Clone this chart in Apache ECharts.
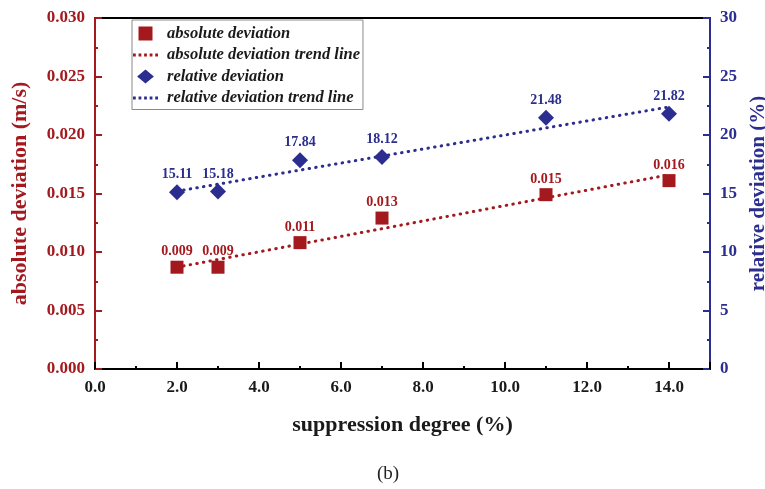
<!DOCTYPE html>
<html>
<head>
<meta charset="utf-8">
<script src="https://cdn.jsdelivr.net/npm/echarts@6/dist/echarts.min.js"></script>
<style>
  html, body { margin: 0; padding: 0; background: #fff; }
  #chart { width: 765px; height: 489px; }
</style>
</head>
<body>
<div id="chart"></div>
<script>
// Suppression degree (%) on the x axis
const suppression = [2, 3, 5, 7, 11, 14];
// Absolute deviation (m/s)
const absoluteDeviation = [0.0087, 0.0087, 0.0108, 0.0129, 0.0149, 0.0161];
// Relative deviation (%)
const relativeDeviation = [15.11, 15.18, 17.84, 18.12, 21.48, 21.82];
// Trend line end points [x, y]
const absoluteTrend = [[2, 0.0087], [14, 0.0166]];
const relativeTrend = [[2, 15.2], [14, 22.4]];
// Axis tick labels
const xTicks = ['0.0', '2.0', '4.0', '6.0', '8.0', '10.0', '12.0', '14.0'];

const RED = '#a3191e';
const BLUE = '#2b2e8f';
const FONT = '"Liberation Serif", "Times New Roman", serif';

// Legend glyphs: a row of dots for trend lines, a square and a diamond for points
const DOTS_ICON = 'path://M0,0h3v3h-3z M6,0h3v3h-3z M12,0h3v3h-3z M18,0h3v3h-3z M24,0h3v3h-3z';
const SQUARE_ICON = 'path://M0,0h10v10h-10z';
const DIAMOND_ICON = 'path://M6,0L12,5L6,10L0,5z';

const chart = echarts.init(document.getElementById('chart'), null, { renderer: 'canvas' });

const pairs = (xs, ys) => xs.map((x, i) => [x, ys[i]]);

const trendStyle = (color) => ({
  color: color,
  width: 3,
  type: [0.5, 6.2],
  cap: 'round'
});

chart.setOption({
  backgroundColor: '#fff',
  animation: false,
  textStyle: { fontFamily: FONT },
  grid: {
    left: 95, right: 55, top: 18, bottom: 120,
    outerBoundsMode: 'none',
    containLabel: false,
    show: true, borderColor: '#000', borderWidth: 2, backgroundColor: 'transparent'
  },
  legend: {
    orient: 'vertical',
    left: 132, top: 20,
    padding: [5, 3, 3, 1],
    itemWidth: 25, itemHeight: 14, itemGap: 4.5,
    symbolKeepAspect: true,
    borderColor: '#8a8a8a', borderWidth: 1,
    textStyle: {
      fontFamily: FONT, fontSize: 16.5, fontStyle: 'italic', fontWeight: 'bold',
      color: '#1a1a1a', lineHeight: 16, padding: [0, 0, 0, 4]
    },
    data: [
      { name: 'absolute deviation', icon: SQUARE_ICON },
      { name: 'absolute deviation trend line', icon: DOTS_ICON },
      { name: 'relative deviation', icon: DIAMOND_ICON },
      { name: 'relative deviation trend line', icon: DOTS_ICON }
    ]
  },
  xAxis: {
    type: 'value',
    min: 0, max: 15, interval: 2,
    name: 'suppression degree (%)',
    nameLocation: 'middle',
    nameGap: 45,
    nameTextStyle: { fontFamily: FONT, fontSize: 22, fontWeight: 'bold', color: '#1a1a1a' },
    axisLine: { lineStyle: { color: '#000', width: 2 } },
    axisTick: { inside: true, length: 7, lineStyle: { color: '#000', width: 2 } },
    minorTick: { show: true, splitNumber: 2, length: 3, lineStyle: { color: '#000', width: 2 } },
    axisLabel: {
      margin: 10,
      showMaxLabel: false,
      fontFamily: FONT, fontSize: 17, fontWeight: 'bold', color: '#1a1a1a',
      formatter: (v) => (v <= 14 ? xTicks[v / 2] : '')
    },
    splitLine: { show: false },
    minorSplitLine: { show: false }
  },
  yAxis: [
    {
      type: 'value',
      min: 0, max: 0.03, interval: 0.005,
      name: 'absolute deviation (m/s)',
      nameLocation: 'middle',
      nameRotate: 90,
      nameGap: 64,
      nameTextStyle: { fontFamily: FONT, fontSize: 22, fontWeight: 'bold', color: RED },
      axisLine: { show: true, lineStyle: { color: RED, width: 2 } },
      axisTick: { inside: true, length: 7, lineStyle: { color: RED, width: 2 } },
      minorTick: { show: true, splitNumber: 2, length: 3, lineStyle: { color: RED, width: 2 } },
      axisLabel: {
        margin: 10,
        fontFamily: FONT, fontSize: 17, fontWeight: 'bold', color: RED,
        formatter: (v) => v.toFixed(3)
      },
      splitLine: { show: false }
    },
    {
      type: 'value',
      min: 0, max: 30, interval: 5,
      name: 'relative deviation (%)',
      nameLocation: 'middle',
      nameRotate: 90,
      nameGap: 34,
      nameTextStyle: { fontFamily: FONT, fontSize: 21, fontWeight: 'bold', color: BLUE },
      axisLine: { show: true, lineStyle: { color: BLUE, width: 2 } },
      axisTick: { inside: true, length: 7, lineStyle: { color: BLUE, width: 2 } },
      minorTick: { show: true, splitNumber: 2, length: 3, lineStyle: { color: BLUE, width: 2 } },
      axisLabel: {
        margin: 10,
        fontFamily: FONT, fontSize: 17, fontWeight: 'bold', color: BLUE
      },
      splitLine: { show: false }
    }
  ],
  series: [
    {
      name: 'absolute deviation trend line',
      type: 'line',
      yAxisIndex: 0,
      data: absoluteTrend,
      symbol: 'none',
      itemStyle: { color: RED },
      lineStyle: trendStyle(RED),
      z: 1
    },
    {
      name: 'relative deviation trend line',
      type: 'line',
      yAxisIndex: 1,
      data: relativeTrend,
      symbol: 'none',
      itemStyle: { color: BLUE },
      lineStyle: trendStyle(BLUE),
      z: 1
    },
    {
      name: 'absolute deviation',
      type: 'scatter',
      yAxisIndex: 0,
      data: pairs(suppression, absoluteDeviation),
      symbol: 'rect',
      symbolSize: 13,
      itemStyle: { color: RED, opacity: 1 },
      label: {
        show: true, position: 'top', distance: 2,
        fontFamily: FONT, fontSize: 14, fontWeight: 'bold', color: RED,
        formatter: (p) => p.value[1].toFixed(3)
      },
      z: 3
    },
    {
      name: 'relative deviation',
      type: 'scatter',
      yAxisIndex: 1,
      data: pairs(suppression, relativeDeviation),
      symbol: 'diamond',
      symbolSize: 16,
      itemStyle: { color: BLUE, opacity: 1 },
      label: {
        show: true, position: 'top', distance: 2.5,
        fontFamily: FONT, fontSize: 14, fontWeight: 'bold', color: BLUE,
        formatter: (p) => p.value[1].toFixed(2)
      },
      z: 3
    }
  ],
  graphic: [
    {
      type: 'text',
      x: 388, y: 474,
      style: {
        text: '(b)',
        fontFamily: FONT, fontSize: 19, fill: '#222',
        textAlign: 'center', textVerticalAlign: 'middle'
      }
    }
  ]
});
</script>
</body>
</html>
